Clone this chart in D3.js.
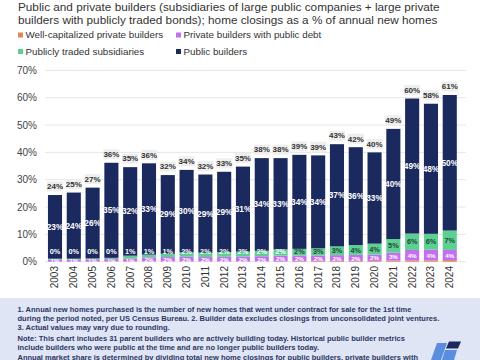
<!DOCTYPE html>
<html><head><meta charset="utf-8">
<script src="https://cdn.jsdelivr.net/npm/d3@7"></script>
<style>
html,body{margin:0;padding:0;background:#fff;}
svg{display:block;font-family:"Liberation Sans",Arial,sans-serif;}
</style></head>
<body><svg id="c" width="480" height="360"></svg>
<script>
const years = ["2003","2004","2005","2006","2007","2008","2009","2010","2011","2012","2013","2014","2015","2016","2017","2018","2019","2020","2021","2022","2023","2024"];
const wellCapitalized = [0.0,0.0,0.0,0.1,0.1,0.1,0.1,0.1,0.1,0.1,0.1,0.1,0.1,0.2,0.3,0.3,0.3,0.3,0.4,0.5,0.5,0.6];
const privatePublicDebt = [0.8,0.8,0.9,0.9,1.1,1.5,1.6,1.7,1.6,1.7,1.8,1.9,2.1,2.1,2.0,2.1,2.2,2.3,2.9,3.8,3.9,3.7];
const publicSubsidiaries = [0.3,0.3,0.3,0.4,1.0,1.0,1.2,1.6,1.6,1.7,1.8,2.0,2.3,2.4,2.6,3.2,3.6,4.0,5.0,6.0,5.8,7.1];
const publicBuilders = [23.3,24.2,25.9,34.8,32.4,33.4,28.8,30.2,28.6,29.4,31.1,33.9,33.4,34.4,34.0,37.4,35.8,33.4,40.3,49.4,47.6,49.6];
const totals = [24,25,27,36,35,36,32,34,32,33,35,38,38,39,39,43,42,40,49,60,58,61];
const yTicks = [0,10,20,30,40,50,60,70];
const seriesNames = ["Well-capitalized private builders","Private builders with public debt","Publicly traded subsidiaries","Public builders"];
const seriesColors = ["#e5835a","#c46ef0","#5dcf93","#1b2a5e"];
const titleLines = ["Public and private builders (subsidiaries of large public companies + large private","builders with publicly traded bonds); home closings as a % of annual new homes"];
const footLines = [
 "1. Annual new homes purchased is the number of new homes that went under contract for sale for the 1st time",
 "during the period noted, per US Census Bureau. 2. Builder data excludes closings from unconsolidated joint ventures.",
 "3. Actual values may vary due to rounding.",
 "Note: This chart includes 31 parent builders who are actively building today. Historical public builder metrics",
 "include builders who were public at the time and are no longer public builders today.",
 "Annual market share is determined by dividing total new home closings for public builders, private builders with"];

const svg = d3.select("#c");
const rows = years.map((y,i)=>({year:y, wc:wellCapitalized[i], pd:privatePublicDebt[i], ps:publicSubsidiaries[i], pb:publicBuilders[i], total:totals[i]}));
const keys = ["wc","pd","ps","pb"];
const stack = d3.stack().keys(keys)(rows);

const x = d3.scaleBand().domain(years).range([43.25,461.5]).paddingInner(0.25).paddingOuter(0.25);
const y = d3.scaleLinear().domain([0,70]).range([261.7,70.4]);

// gridlines + y labels
svg.append("g").selectAll("line").data(yTicks).join("line")
 .attr("x1",45).attr("x2",466).attr("y1",d=>y(d)).attr("y2",d=>y(d))
 .attr("stroke","#e6e6e6").attr("stroke-width",1);
svg.append("g").selectAll("text").data(yTicks).join("text")
 .attr("x",37).attr("y",d=>y(d)).attr("dy","0.35em").attr("text-anchor","end")
 .attr("font-size",10).attr("fill","#444").text(d=>d+"%");

// bars
svg.append("g").selectAll("g").data(stack).join("g").attr("fill",(d,i)=>seriesColors[i])
 .selectAll("rect").data(d=>d).join("rect")
 .attr("x",d=>x(d.data.year)).attr("width",x.bandwidth())
 .attr("y",d=>y(d[1])).attr("height",d=>Math.max(0,y(d[0])-y(d[1])));

// white mask for legend area
svg.append("rect").attr("x",0).attr("y",0).attr("width",480).attr("height",66).attr("fill","#fff");

// labels
const lab = svg.append("g").attr("font-weight","bold").attr("text-anchor","middle");
lab.selectAll("text.pb").data(stack[3]).join("text").attr("class","pb")
 .attr("x",d=>x(d.data.year)+x.bandwidth()/2).attr("y",d=>(y(d[0])+y(d[1]))/2).attr("dy","0.35em")
 .attr("font-size",8.3).attr("fill","#fff").text(d=>Math.round(d.data.pb)+"%");
lab.selectAll("text.ps").data(stack[2]).join("text").attr("class","ps")
 .attr("x",d=>x(d.data.year)+x.bandwidth()/2).attr("y",d=>Math.min((y(d[0])+y(d[1]))/2,251.3)).attr("dy","0.35em")
 .attr("font-size",7.3).attr("fill",d=>d.data.ps>=2.4?"#1f4a32":"#fff").text(d=>Math.round(d.data.ps)+"%");
lab.selectAll("text.pd").data(stack[1]).join("text").attr("class","pd")
 .attr("x",d=>x(d.data.year)+x.bandwidth()/2).attr("y",d=>(y(d[0])+y(d[1]))/2+0.5).attr("dy","0.35em")
 .attr("font-size",6.2).attr("fill","#fff").text(d=>Math.round(d.data.pd)+"%");
// totals
const tg = svg.append("g").selectAll("g").data(rows).join("g")
 .attr("transform",d=>`translate(${x(d.year)+x.bandwidth()/2},${y(d.wc+d.pd+d.ps+d.pb)-8.5})`);
tg.append("rect").attr("x",-8).attr("y",-5).attr("width",16).attr("height",10).attr("fill","#eeeeee");
tg.append("text").attr("text-anchor","middle").attr("dy","0.35em").attr("font-size",8).attr("font-weight","bold")
 .attr("fill","#333").text(d=>d.total+"%");

// x axis labels
svg.append("g").selectAll("text").data(years).join("text")
 .attr("transform",d=>`translate(${x(d)+x.bandwidth()/2},266) rotate(-90)`)
 .attr("text-anchor","end").attr("dy","0.35em").attr("font-size",10).attr("fill","#333").text(d=>d);

// title
svg.append("g").selectAll("text").data(titleLines).join("text")
 .attr("x",18).attr("y",(d,i)=>10.5+i*13).attr("font-size",11.75).attr("fill","#333").text(d=>d);

// legend
const legPos = [[18,35],[176,35],[18,51.5],[176,51.5]];
const lg = svg.append("g").selectAll("g").data(seriesNames).join("g")
 .attr("transform",(d,i)=>`translate(${legPos[i][0]},${legPos[i][1]})`);
lg.append("rect").attr("x",0).attr("y",-2.5).attr("width",5).attr("height",5).attr("fill",(d,i)=>seriesColors[i]);
lg.append("text").attr("x",7.5).attr("dy","0.35em").attr("font-size",9.8).attr("fill","#333").text(d=>d);

// footer
svg.append("rect").attr("x",0).attr("y",298).attr("width",480).attr("height",62).attr("fill","#dfe5f5");
const fy = [309.5,318.8,327.7,338.3,347.7,357.7];
svg.append("g").selectAll("text").data(footLines).join("text")
 .attr("x",17.5).attr("y",(d,i)=>fy[i]).attr("dy","0.35em").attr("font-size",7.5).attr("font-weight","bold")
 .attr("fill","#2b3763").text(d=>d);
// logo
const logo = svg.append("g");
logo.append("path").attr("d","M437,343 L447,343 L441,360 L431,360 Z").attr("fill","#5a8de0");
logo.append("path").attr("d","M449,341.5 L461,341.5 L458,348.5 L446,348.5 Z").attr("fill","#1b2a5e");
logo.append("path").attr("d","M445,350 L457,350 L454,360 L442,360 Z").attr("fill","#5a8de0");
</script></body></html>
